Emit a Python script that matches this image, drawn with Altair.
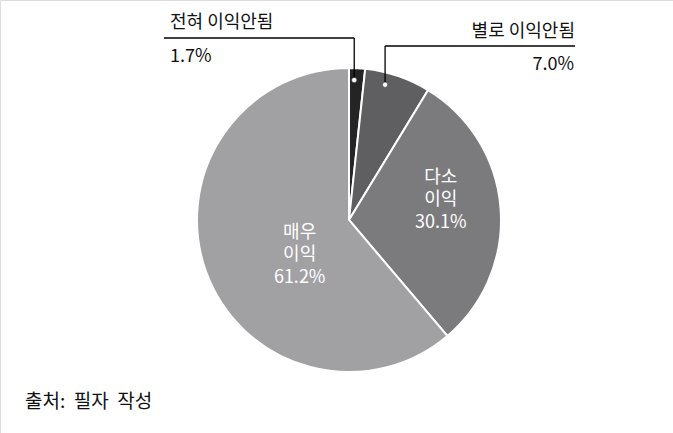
import math
import altair as alt
import pandas as pd

# ---- data ----
categories = ["전혀 이익안됨", "별로 이익안됨", "다소 이익", "매우 이익"]
values = [1.7, 7.0, 30.1, 61.2]
inner_labels = ["", "", "다소\n이익\n30.1%", "매우\n이익\n61.2%"]
outer_names = ["전혀 이익안됨", "별로 이익안됨"]
outer_pcts = ["1.7%", "7.0%"]
source_text = "출처:\u00a0\u00a0필자\u00a0\u00a0작성"

colors = ["#242424", "#5f5f61", "#7b7b7d", "#a1a1a3"]
FONT = "Noto Sans CJK KR"

CX, CY, R = 349, 220, 152

df = pd.DataFrame({"cat": categories, "value": values,
                   "order": list(range(len(values))), "label": inner_labels})

color = alt.Color("cat:N", scale=alt.Scale(domain=categories, range=colors), legend=None)
theta = alt.Theta("value:Q", stack=True)
order = alt.Order("order:Q")

base = alt.Chart(df)

shadow = alt.Chart(pd.DataFrame({"v": [1]})).mark_arc(
    radius=R + 1, color="#c4c4c4", opacity=0.7
).encode(theta=alt.Theta("v:Q"), x=alt.value(CX + 2), y=alt.value(CY + 3))
shadow2 = alt.Chart(pd.DataFrame({"v": [1]})).mark_arc(
    radius=R + 2, color="#e2e2e2", opacity=0.7
).encode(theta=alt.Theta("v:Q"), x=alt.value(CX + 3), y=alt.value(CY + 4))

pie = base.mark_arc(radius=R, stroke="white", strokeWidth=2).encode(
    theta=theta, color=color, order=order,
    x=alt.value(CX), y=alt.value(CY),
)

def inner_label(cat, radius, dx, dy):
    return base.transform_window(
        cum="sum(value)", sort=[alt.SortField("order")]
    ).transform_joinaggregate(total="sum(value)").transform_calculate(
        mid="(datum.cum - datum.value/2) / datum.total * 2 * PI"
    ).transform_filter(alt.datum.cat == cat).transform_calculate(
        px=f"{CX} + {radius} * sin(datum.mid) + {dx}",
        py=f"{CY} - {radius} * cos(datum.mid) + {dy}",
    ).mark_text(
        font=FONT, fontSize=18, color="white", lineBreak="\n", lineHeight=22.5,
        align="center", baseline="middle",
    ).encode(x=alt.X("px:Q", scale=None, axis=None),
             y=alt.Y("py:Q", scale=None, axis=None), text="label:N")

lab1 = inner_label("다소 이익", 95, -3, -35)
lab2 = inner_label("매우 이익", 60, 7, -8)

# ---- leader lines for small slices (geometry derived from values) ----
total = sum(values)
cum = 0.0
dots = []
for i in range(2):
    ang = 2 * math.pi * (cum + 0.35 * values[i]) / total
    dots.append((CX + 140 * math.sin(ang), CY - 140 * math.cos(ang)))
    cum += values[i]

line_y = [38, 46]
line_end = [164, 575]
segs = pd.DataFrame({
    "x": [dots[0][0], dots[0][0], dots[1][0], dots[1][0]],
    "y": [dots[0][1], line_y[0], dots[1][1], line_y[1]],
    "x2": [dots[0][0], line_end[0], dots[1][0], line_end[1]],
    "y2": [line_y[0], line_y[0], line_y[1], line_y[1]],
})
leaders = alt.Chart(segs).mark_rule(color="black", strokeWidth=1.3).encode(
    x=alt.X("x:Q", scale=None, axis=None), y=alt.Y("y:Q", scale=None, axis=None),
    x2="x2:Q", y2="y2:Q",
)
dot_df = pd.DataFrame({"x": [d[0] for d in dots], "y": [d[1] for d in dots]})
dot_layer = alt.Chart(dot_df).mark_circle(size=28, color="white", opacity=1,
                                          stroke="#111", strokeWidth=0.5).encode(
    x=alt.X("x:Q", scale=None, axis=None), y=alt.Y("y:Q", scale=None, axis=None),
)

out_df = pd.DataFrame({
    "text": [outer_names[0], outer_pcts[0]],
    "x": [170, 170], "y": [28, 62],
})
out_df2 = pd.DataFrame({
    "text": [outer_names[1], outer_pcts[1]],
    "x": [575, 574], "y": [37, 70],
})
out_left = alt.Chart(out_df).mark_text(font=FONT, fontSize=18, color="#111",
                                       align="left", baseline="alphabetic").encode(
    x=alt.X("x:Q", scale=None, axis=None), y=alt.Y("y:Q", scale=None, axis=None),
    text="text:N")
out_right = alt.Chart(out_df2).mark_text(font=FONT, fontSize=18, color="#111",
                                         align="right", baseline="alphabetic").encode(
    x=alt.X("x:Q", scale=None, axis=None), y=alt.Y("y:Q", scale=None, axis=None),
    text="text:N")

src = alt.Chart(pd.DataFrame({"t": [source_text]})).mark_text(
    font=FONT, fontSize=19, color="#111", align="left", baseline="alphabetic"
).encode(x=alt.value(25), y=alt.value(408), text="t:N")

chart = alt.layer(
    shadow2, shadow, pie, lab1, lab2, leaders, dot_layer, out_left, out_right, src
).properties(
    width=673, height=433, padding=0, autosize="none"
).configure_view(stroke=None).configure(background="white")

chart.save("out.html", embed_options={"renderer": "svg", "actions": False})
